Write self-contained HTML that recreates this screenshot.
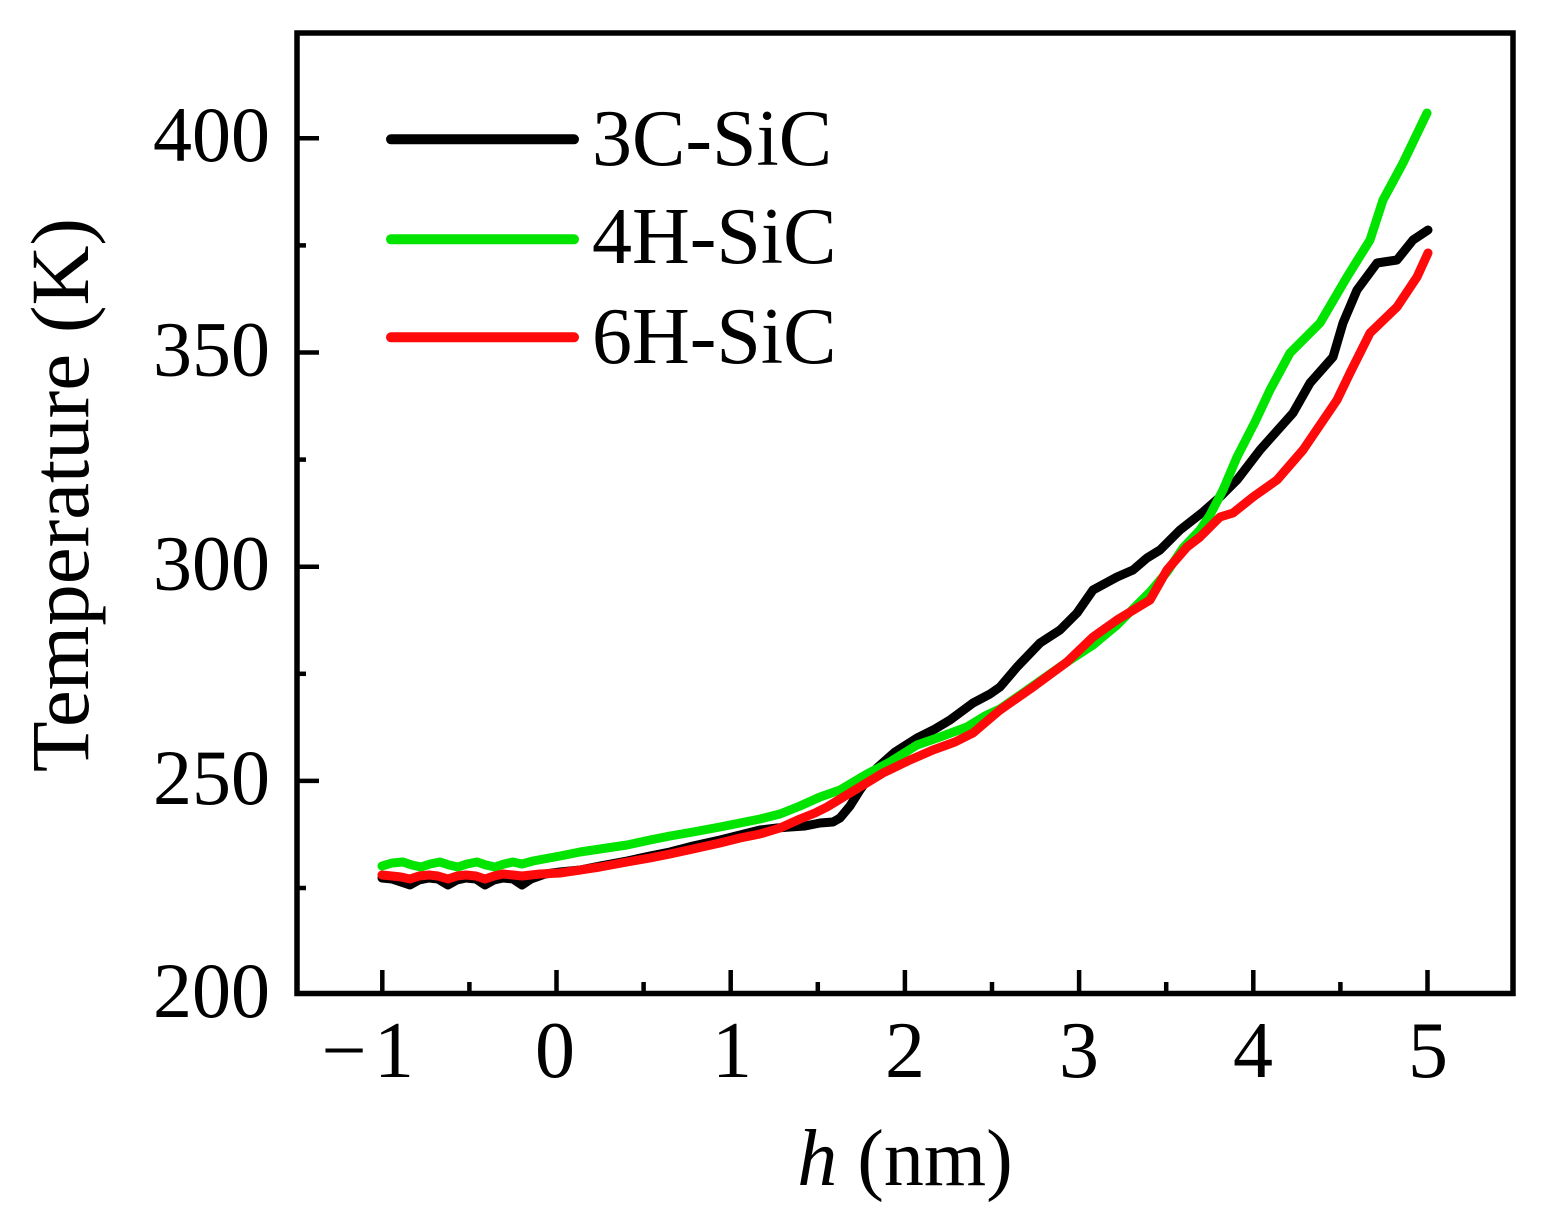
<!DOCTYPE html>
<html>
<head>
<meta charset="utf-8">
<style>
html,body{margin:0;padding:0;background:#fff;}
svg{display:block;}
text{font-family:"Liberation Serif","DejaVu Serif",serif;fill:#000;}
</style>
</head>
<body>
<svg width="1542" height="1222" viewBox="0 0 1542 1222" xmlns="http://www.w3.org/2000/svg">
<rect x="0" y="0" width="1542" height="1222" fill="#fff"/>

<!-- data series -->
<g fill="none" stroke-width="9" stroke-linejoin="round" stroke-linecap="round">
<polyline stroke="#000" points="382,878 392,879 401,882 410,885 419,880 429,878 438,879 448,885 457,880 466,878 476,879 485,885 494,880 503,878 513,879 522,885 531,879 545,874 560,872 580,870 600,866 627,861 650,856 670,852 693,846 720,840 740,835 760,830 777,828 790,827 805,826 820,823 833,822 840,818 850,806 860,790 870,776 877,768 895,752 917,738 935,729 950,720 973,703 990,694 1000,687 1017,667 1040,643 1060,630 1077,613 1093,590 1117,577 1133,570 1147,558 1160,550 1180,530 1203,512 1220,497 1237,480 1260,450 1293,413 1310,383 1333,357 1343,323 1357,290 1377,263 1397,260 1413,240 1428,230"/>
<polyline stroke="#00e400" points="382,866 392,863 403,862 412,865 421,867 430,864 440,862 449,865 458,867 467,864 477,862 486,865 495,867 504,864 513,862 522,864 533,861 560,856 580,852 600,849 627,845 650,840 670,836 693,832 720,827 740,823 760,819 780,814 800,806 820,797 840,790 867,774 890,762 917,745 940,737 967,727 985,716 1000,709 1033,686 1067,662 1093,645 1117,625 1150,592 1167,572 1183,548 1200,530 1210,515 1223,490 1237,457 1255,422 1270,390 1290,353 1305,338 1320,323 1347,277 1370,240 1383,200 1403,163 1427,113"/>
<polyline stroke="#ff0a0a" points="382,875 392,876 401,877 410,879 419,876 429,875 438,876 448,879 457,876 466,875 476,876 485,879 494,876 503,874 513,875 522,876 540,874 560,873 580,870 600,867 627,862 650,858 670,854 693,849 720,843 740,838 760,834 780,828 800,819 815,813 827,807 850,793 883,773 910,760 933,750 955,742 973,733 1000,710 1033,687 1067,662 1093,637 1117,620 1150,600 1167,570 1187,547 1200,537 1220,517 1233,513 1253,497 1277,480 1303,450 1337,400 1350,373 1370,333 1397,307 1417,277 1428,253"/>
</g>

<!-- frame -->
<rect x="297" y="33" width="1216" height="960.5" fill="none" stroke="#000" stroke-width="5.5"/>

<!-- x ticks -->
<g stroke="#000" stroke-width="4.5">
<line x1="382.3" y1="993" x2="382.3" y2="970"/>
<line x1="556.5" y1="993" x2="556.5" y2="970"/>
<line x1="730.7" y1="993" x2="730.7" y2="970"/>
<line x1="904.9" y1="993" x2="904.9" y2="970"/>
<line x1="1079.1" y1="993" x2="1079.1" y2="970"/>
<line x1="1253.3" y1="993" x2="1253.3" y2="970"/>
<line x1="1427.5" y1="993" x2="1427.5" y2="970"/>
<line x1="469.4" y1="993" x2="469.4" y2="982"/>
<line x1="643.6" y1="993" x2="643.6" y2="982"/>
<line x1="817.8" y1="993" x2="817.8" y2="982"/>
<line x1="992" y1="993" x2="992" y2="982"/>
<line x1="1166.2" y1="993" x2="1166.2" y2="982"/>
<line x1="1340.4" y1="993" x2="1340.4" y2="982"/>
<!-- y ticks -->
<line x1="297" y1="138.3" x2="319" y2="138.3"/>
<line x1="297" y1="352.5" x2="319" y2="352.5"/>
<line x1="297" y1="566.7" x2="319" y2="566.7"/>
<line x1="297" y1="780.9" x2="319" y2="780.9"/>
<line x1="297" y1="245.4" x2="306" y2="245.4"/>
<line x1="297" y1="459.6" x2="306" y2="459.6"/>
<line x1="297" y1="673.8" x2="306" y2="673.8"/>
<line x1="297" y1="888" x2="306" y2="888"/>
</g>

<!-- y tick labels -->
<g font-size="78" text-anchor="end">
<text x="270" y="161">400</text>
<text x="270" y="375.5">350</text>
<text x="270" y="589.5">300</text>
<text x="270" y="804">250</text>
<text x="270" y="1017">200</text>
</g>

<!-- x tick labels -->
<g font-size="80" text-anchor="middle">
<text x="344" y="1077">−</text>
<text x="394" y="1077">1</text>
<text x="555" y="1077">0</text>
<text x="732" y="1077">1</text>
<text x="905" y="1077">2</text>
<text x="1079" y="1077">3</text>
<text x="1253" y="1077">4</text>
<text x="1428" y="1077">5</text>
</g>

<!-- axis titles -->
<text x="905" y="1185" font-size="80" text-anchor="middle"><tspan font-style="italic">h</tspan> (nm)</text>
<text transform="translate(88,495) rotate(-90)" font-size="83" text-anchor="middle">Temperature (K)</text>

<!-- legend -->
<g stroke-width="10" stroke-linecap="round">
<line x1="391" y1="139.3" x2="574" y2="139.3" stroke="#000"/>
<line x1="391" y1="239.3" x2="574" y2="239.3" stroke="#00e400"/>
<line x1="391" y1="337.3" x2="574" y2="337.3" stroke="#ff0a0a"/>
</g>
<g font-size="80">
<text x="592" y="165">3C-SiC</text>
<text x="592" y="263">4H-SiC</text>
<text x="592" y="363">6H-SiC</text>
</g>
</svg>
</body>
</html>
